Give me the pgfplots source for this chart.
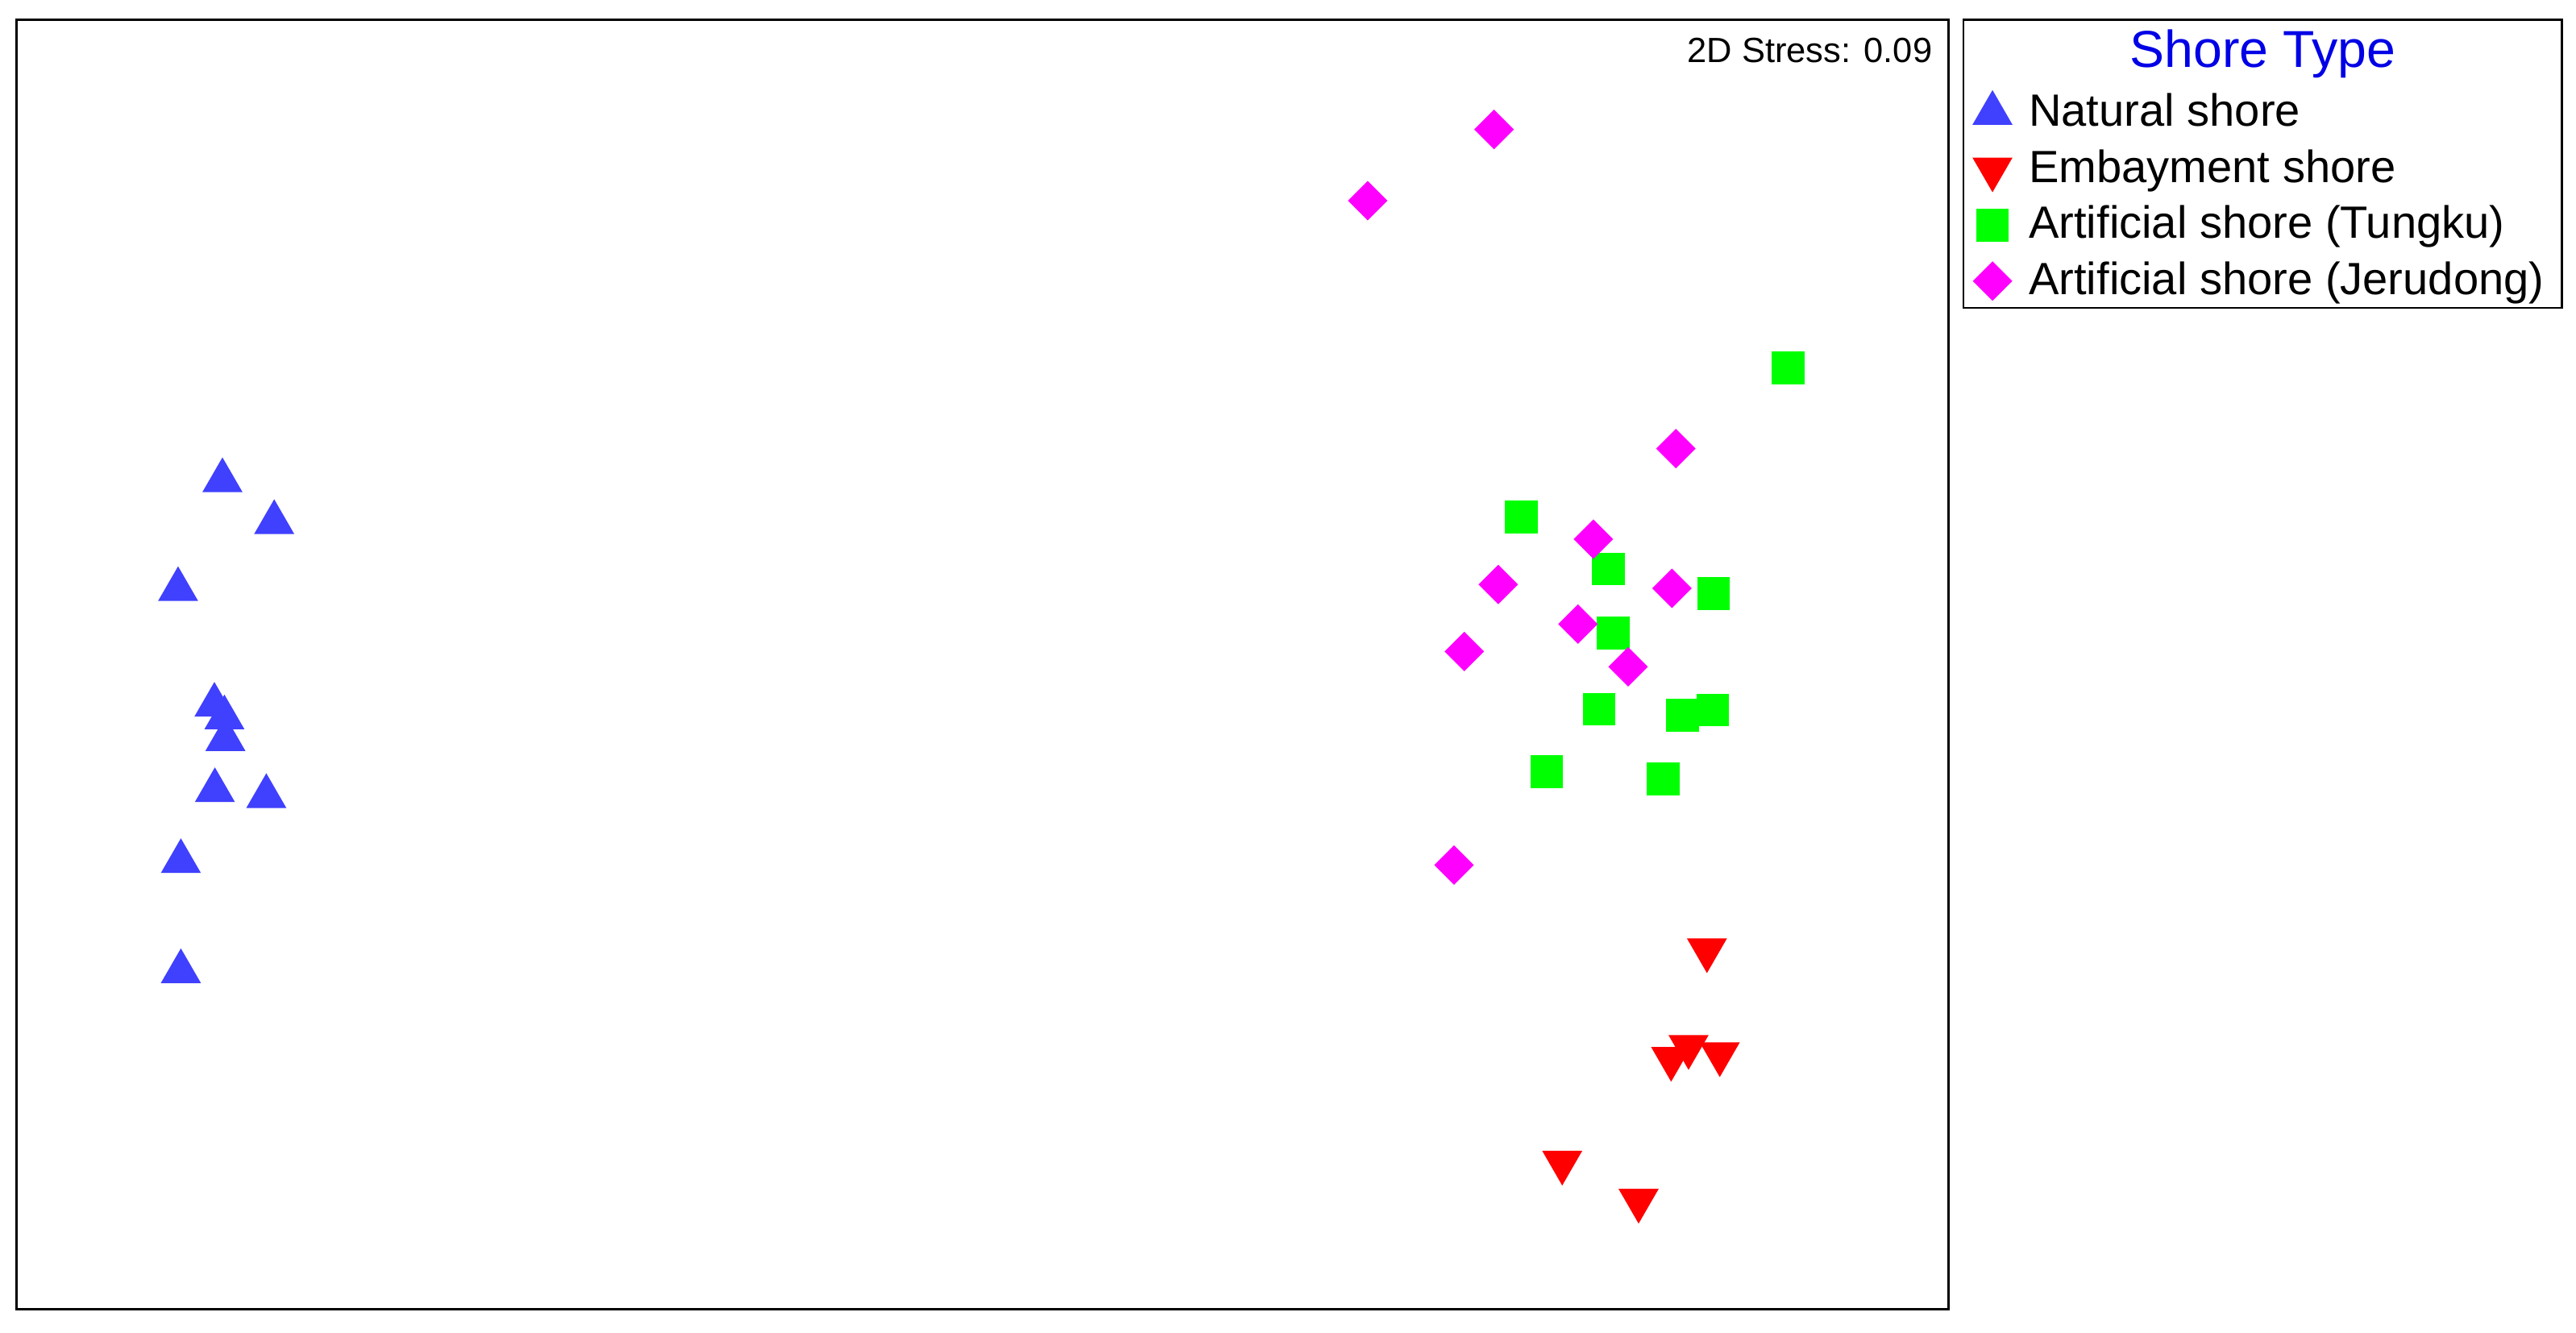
\documentclass[border=0pt]{standalone}
\usepackage{pgfplots}
\pgfplotsset{compat=1.18}
\usepackage{fontspec}
\setmainfont{Liberation Sans}
\definecolor{natblue}{RGB}{64,64,255}
\definecolor{embred}{RGB}{255,0,0}
\definecolor{tungreen}{RGB}{0,255,0}
\definecolor{jermag}{RGB}{255,0,255}
\definecolor{titleblue}{RGB}{0,0,230}
\begin{document}
\begin{tikzpicture}
\begin{axis}[
  scale only axis, width=588pt, height=392.5pt,
  xmin=10, xmax=1186, ymin=14, ymax=799,
  xtick=\empty, ytick=\empty,
  axis line style={line width=0.6pt},
  clip=false,
  legend style={at={(1.01259,0.94535)}, anchor=north west, draw=none, fill=none,
    inner sep=0pt, outer sep=0pt, row sep=2.03pt, column sep=5.1pt,
    font=\fontsize{13.76}{16}\selectfont,
    nodes={inner sep=0pt, outer sep=0pt, text height=11pt, text depth=4pt, anchor=base west}},
  legend cell align=left,
  legend image code/.code={\path[draw=none,fill=none] (-6pt,-4pt) rectangle (6pt,11pt); \draw[#1] plot coordinates {(0pt,4pt)};},
]
\addplot[only marks, mark=triangle*, mark size=6.64pt, color=natblue, mark options={draw=none, fill=natblue}] coordinates {
(135.4,518.5) (166.9,493.0) (108.4,452.2) (130.5,381.8) (136.6,374.1) (137.2,360.9) (130.8,329.8) (162.1,326.2) (110.1,286.6) (110.1,219.6)};
\addlegendentry{Natural shore}
\addplot[only marks, mark=triangle*, mark size=6.64pt, color=embred, mark options={draw=none, fill=embred, rotate=180}] coordinates {
(1039,232.7) (1027.8,173.8) (1017.2,166.6) (1046.8,169.4) (950.9,103.4) (997.4,80.2)};
\addlegendentry{Embayment shore}
\addplot[only marks, mark=square*, mark size=4.78pt, color=tungreen, mark options={draw=none, fill=tungreen}] coordinates {
(1088.3,586.9) (925.9,496.2) (978.9,464.6) (1043.0,449.6) (982.0,425.6) (973.4,379.3) (1024.2,375.7) (1042.5,378.8) (941.5,341.3) (1012.4,336.7)};
\addlegendentry{Artificial shore (Tungku)}
\addplot[only marks, mark=diamond*, mark size=5.73pt, color=jermag, mark options={draw=none, fill=jermag, xscale=1.3333}] coordinates {
(909.4,732.2) (832.5,688.8) (1020.1,537.9) (969.9,482.8) (912.0,455.2) (1017.7,452.9) (960.5,431.1) (891.3,414.4) (991.0,405.1) (885.1,284.4)};
\addlegendentry{Artificial shore (Jerudong)}
\node[anchor=base east, inner sep=0pt, font=\fontsize{10.66}{12}\selectfont] at (axis cs:1176.5,773) {2D Stress: 0.09};
\node[anchor=base, inner sep=0pt, text=titleblue, font=\fontsize{15.8}{18}\selectfont] at (axis cs:1377.3,770.1) {Shore Type};
\draw[line width=0.6pt] (axis cs:1195,799) rectangle (axis cs:1559.3,623.7);
\path (axis cs:0,0) (axis cs:1568,811);
\end{axis}
\end{tikzpicture}
\end{document}
